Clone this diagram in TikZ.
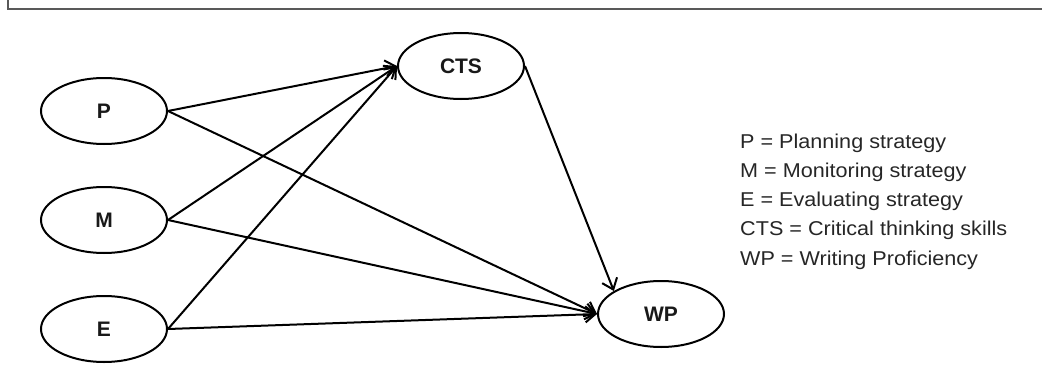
\documentclass[tikz,border=0pt]{standalone}
\usepackage{fontspec}
\setmainfont{Liberation Sans}
\newfontfamily\legendfont[FakeStretch=1.08]{Liberation Sans}
\usetikzlibrary{shapes.geometric,arrows.meta}
\begin{document}
\begin{tikzpicture}[x=1pt,y=1pt,
  var/.style={ellipse,draw,line width=2pt,minimum width=126pt,minimum height=66pt,inner sep=0pt,font=\fontsize{21}{24}\selectfont\bfseries,text=black!90},
  path/.style={line width=2pt,-{Straight Barb[length=10pt,width=16pt,line width=2pt]}},
  legend/.style={anchor=base west,inner sep=0pt,font=\legendfont\fontsize{20}{24}\selectfont,text=black!85}]
\useasboundingbox (0,0) rectangle (1042,384);
% frame
\draw[line width=1.6pt,black!65] (8,384) -- (8,375) -- (1042,375);
% nodes
\node[var] (P) at (104,273) {P};
\node[var] (M) at (104,164) {M};
\node[var] (E) at (104,55) {E};
\node[var] (CTS) at (461,318) {CTS};
\node[var] (WP) at (661,70) {WP};
% connectors
\draw[path] (P.east) -- (CTS.west);
\draw[path] (M.east) -- (CTS.west);
\draw[path] (E.east) -- (CTS.west);
\draw[path] (P.east) -- (WP.west);
\draw[path] (M.east) -- (WP.west);
\draw[path] (E.east) -- (WP.west);
\draw[path] (CTS.east) -- (WP.154);
% legend
\node[legend] (L1) at (740,236) {P = Planning strategy};
\node[legend] (L2) at (740,207) {M = Monitoring strategy};
\node[legend] (L3) at (740,178) {E = Evaluating strategy};
\node[legend] (L4) at (740,148.5) {CTS = Critical thinking skills};
\node[legend] (L5) at (740,119) {WP = Writing Proficiency};
\end{tikzpicture}
\end{document}
